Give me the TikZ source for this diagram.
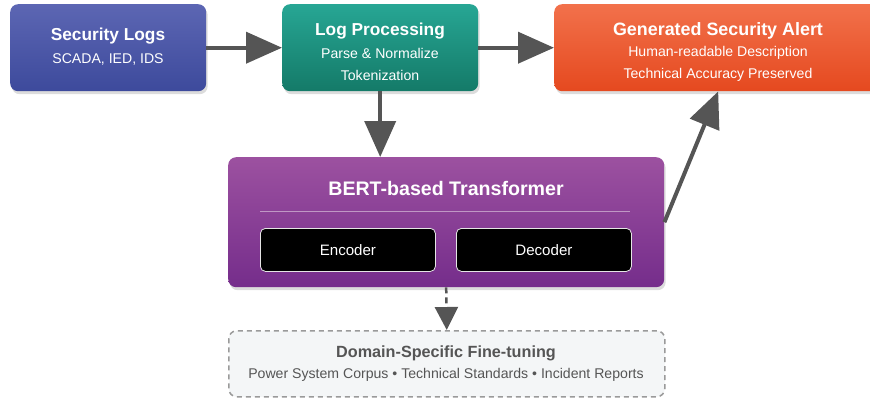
\documentclass[tikz,border=0pt]{standalone}
\usepackage{fontspec}
\setmainfont{Liberation Sans}
\usetikzlibrary{arrows.meta,shadows,calc}
\definecolor{arrowgray}{HTML}{555555}
\definecolor{slTop}{HTML}{5C66B3}
\definecolor{slBot}{HTML}{3D4A9C}
\definecolor{lpTop}{HTML}{27A694}
\definecolor{lpBot}{HTML}{147A68}
\definecolor{gaTop}{HTML}{F2714B}
\definecolor{gaBot}{HTML}{E5491F}
\definecolor{btTop}{HTML}{9C51A0}
\definecolor{btBot}{HTML}{752D8B}
\definecolor{ftFill}{HTML}{F4F6F7}
\definecolor{ftLine}{HTML}{9A9A9A}
\definecolor{ftText}{HTML}{555555}
\begin{document}
\begin{tikzpicture}[x=1pt,y=-1pt,
  box/.style={rounded corners=8pt, draw=none, inner sep=0pt, anchor=north west,
    drop shadow={opacity=0.28,shadow xshift=1.5pt,shadow yshift=-3pt}},
  ttl/.style={text=white, font=\fontsize{17.3}{20}\selectfont\bfseries, inner sep=0pt},
  sub/.style={text=white, font=\fontsize{14.1}{16}\selectfont, inner sep=0pt},
  arr/.style={draw=arrowgray, line width=4pt, -{Triangle[length=36pt,width=31pt]}},
  darr/.style={draw=arrowgray, line width=2.5pt, dash pattern=on 6pt off 4pt, -{Triangle[length=23pt,width=23pt]}},
  inner/.style={fill=black, draw=white!80!gray, line width=0.8pt, rounded corners=5pt, anchor=north west,
    minimum width=175pt, minimum height=43pt, inner sep=0pt, text=white, font=\fontsize{15.1}{17}\selectfont}
]
\useasboundingbox (0,0) rectangle (870,397);

% boxes
\node[box, top color=slTop, bottom color=slBot, minimum width=196pt, minimum height=87pt] (sl) at (10,4) {};
\node[box, top color=lpTop, bottom color=lpBot, minimum width=196pt, minimum height=87pt] (lp) at (282,4) {};
\node[box, top color=gaTop, bottom color=gaBot, minimum width=328pt, minimum height=87pt] (ga) at (554,4) {};
\node[box, top color=btTop, bottom color=btBot, minimum width=436pt, minimum height=130pt] (bt) at (228,157) {};
\node[rounded corners=8pt, anchor=north west, fill=ftFill, draw=ftLine, line width=1.5pt,
  dash pattern=on 5pt off 4pt, minimum width=436pt, minimum height=66pt, inner sep=0pt] (ft) at (228,330) {};

% texts
\node[ttl] (slt) at (108,36) {Security Logs};
\node[sub] (sls) at (108,59) {SCADA, IED, IDS};
\node[ttl] (lpt) at (380,31) {Log Processing};
\node[sub] (lps1) at (380,53) {Parse \& Normalize};
\node[sub] (lps2) at (380,75) {Tokenization};
\node[ttl, font=\fontsize{17.9}{20}\selectfont\bfseries] (gat) at (718,31) {Generated Security Alert};
\node[sub] (gas1) at (718,53) {Human-readable Description};
\node[sub] (gas2) at (718,75) {Technical Accuracy Preserved};
\node[ttl, font=\fontsize{19.6}{23}\selectfont\bfseries] (btt) at (446,188) {BERT-based Transformer};
\draw[white, opacity=0.45, line width=1pt] (260,211) -- (630,211);
\node[inner] (enc) at (260,228) {Encoder};
\node[inner] (dec) at (456,228) {Decoder};
\node[ttl, text=ftText, font=\fontsize{16.2}{19}\selectfont\bfseries] (ftt) at (446,353) {Domain-Specific Fine-tuning};
\node[sub, text=ftText, font=\fontsize{14.1}{16}\selectfont] (fts) at (446,375) {Power System Corpus • Technical Standards • Incident Reports};

% connectors
\draw[arr] (sl.east) -- (lp.west);
\draw[arr] (lp.east) -- (ga.west);
\draw[arr] (lp.south) -- (lp.south |- bt.north);
\draw[arr] (bt.east) -- (ga.south);
\draw[darr] (bt.south) -- (ft.north);
\end{tikzpicture}
\end{document}
